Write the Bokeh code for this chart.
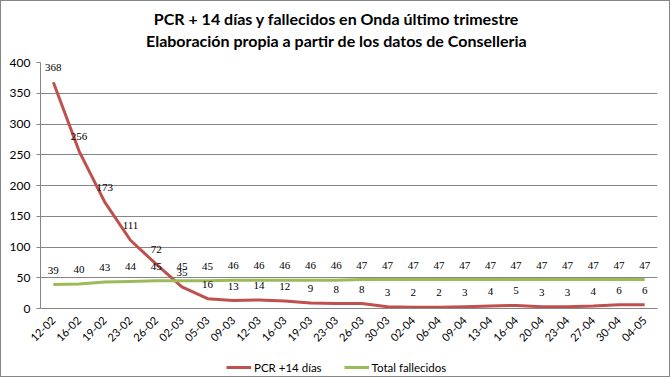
from bokeh.plotting import figure
from bokeh.layouts import column
from bokeh.models import (FactorRange, Range1d, ColumnDataSource, LabelSet, Legend,
                          LegendItem, Label, SingleIntervalTicker)
from bokeh.embed import file_html
from bokeh.resources import INLINE

dates = ["12-02", "16-02", "19-02", "23-02", "26-02", "02-03", "05-03", "09-03",
         "12-03", "16-03", "19-03", "23-03", "26-03", "30-03", "02-04", "06-04",
         "09-04", "13-04", "16-04", "20-04", "23-04", "27-04", "30-04", "04-05"]
pcr = [368, 256, 173, 111, 72, 35, 16, 13, 14, 12, 9, 8, 8, 3, 2, 2, 3, 4, 5, 3, 3, 4, 6, 6]
fallecidos = [39, 40, 43, 44, 45, 45, 45, 46, 46, 46, 46, 46, 47, 47, 47, 47, 47, 47,
              47, 47, 47, 47, 47, 47]

title1 = "PCR + 14 días y fallecidos en Onda último trimestre"
title2 = "Elaboración propia a partir de los datos de Conselleria"
series_names = ["PCR +14 días", "Total fallecidos"]

RED = "#C0504D"
GREEN = "#9BBB59"
GRID = "#868686"

src = ColumnDataSource(dict(x=dates, pcr=pcr, fal=fallecidos,
                            pcr_t=[str(v) for v in pcr],
                            fal_t=[str(v) for v in fallecidos]))


def blank(fig):
    fig.title = None
    fig.outline_line_color = None
    fig.xgrid.grid_line_color = None
    fig.ygrid.grid_line_color = None


# title strip
h = figure(width=668, height=53, output_backend="svg", toolbar_location=None,
           x_axis_type=None, y_axis_type=None, min_border=0,
           x_range=Range1d(0, 1), y_range=Range1d(0, 1))
blank(h)
for txt, ypos in ((title1, 36), (title2, 14)):
    h.add_layout(Label(x=296, y=ypos, x_units="screen", y_units="screen", text=txt,
                       text_align="center", text_baseline="middle", text_font="Lato",
                       text_font_size="16px", text_font_style="bold",
                       text_color="#000000"))

# main chart
p = figure(width=668, height=294, x_range=FactorRange(factors=dates, range_padding=0),
           y_range=Range1d(0, 400), output_backend="svg", toolbar_location=None,
           min_border_left=39, min_border_right=12, min_border_top=8, min_border_bottom=40)
p.title = None
p.outline_line_color = None

r1 = p.line("x", "pcr", source=src, line_color=RED, line_width=3)
r2 = p.line("x", "fal", source=src, line_color=GREEN, line_width=3)

for col, tcol in (("pcr", "pcr_t"), ("fal", "fal_t")):
    p.add_layout(LabelSet(x="x", y=col, text=tcol, source=src, y_offset=11,
                          text_align="center", text_baseline="bottom",
                          text_font="DejaVu Sans", text_font_size="11px",
                          text_color="#000000"))

p.yaxis.ticker = SingleIntervalTicker(interval=50)
p.yaxis.minor_tick_line_color = None
p.yaxis.major_tick_out = 4
p.yaxis.major_tick_in = 0
p.yaxis.axis_line_color = GRID
p.yaxis.major_tick_line_color = GRID
p.yaxis.major_label_text_font = "Lato"
p.yaxis.major_label_text_font_size = "12px"
p.yaxis.major_label_text_color = "#000000"
p.yaxis.major_label_standoff = 6

p.xaxis.major_tick_line_color = None
p.xaxis.minor_tick_line_color = None
p.xaxis.axis_line_color = GRID
p.xaxis.major_label_orientation = 0.785398
p.xaxis.major_label_text_font = "Lato"
p.xaxis.major_label_text_font_size = "11px"
p.xaxis.major_label_text_color = "#000000"
p.xaxis.major_label_standoff = 4

p.xgrid.grid_line_color = None
p.ygrid.grid_line_color = GRID
p.ygrid.grid_line_width = 1

# legend strip below the chart (series drawn out of view, only their legend shows)
q = figure(width=668, height=28, output_backend="svg", toolbar_location=None,
           x_axis_type=None, y_axis_type=None, min_border=0,
           x_range=p.x_range, y_range=Range1d(1000, 1001))
blank(q)
l1 = q.line("x", "pcr", source=src, line_color=RED, line_width=3)
l2 = q.line("x", "fal", source=src, line_color=GREEN, line_width=3)
legend = Legend(items=[LegendItem(label=series_names[0], renderers=[l1]),
                       LegendItem(label=series_names[1], renderers=[l2])],
                orientation="horizontal", location=(186, 2),
                border_line_color=None, background_fill_alpha=0,
                label_text_font="Lato", label_text_font_size="11.5px",
                label_text_color="#000000", glyph_width=25, glyph_height=14,
                label_standoff=3, spacing=22, padding=2, margin=0, label_height=14)
q.add_layout(legend, "center")

layout = column(h, p, q, spacing=0)
layout.styles = {"border": "1px solid #868686"}

open("out.html", "w").write(file_html(layout, INLINE))
